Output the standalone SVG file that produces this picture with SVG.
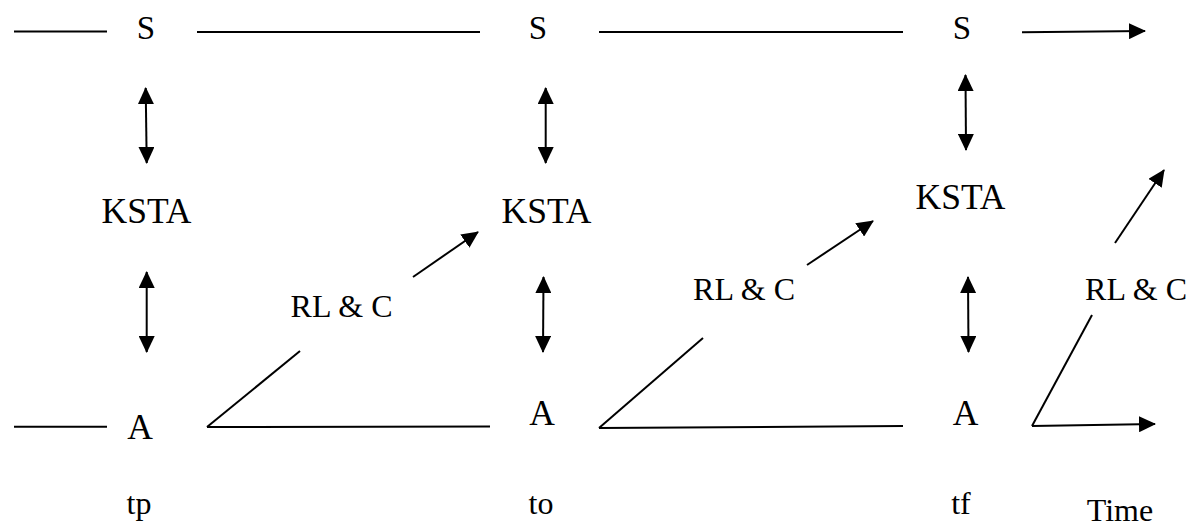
<svg xmlns="http://www.w3.org/2000/svg" width="1198" height="527" viewBox="0 0 1198 527">
<style>
text{font-family:"Liberation Serif","Times New Roman",serif;font-size:32px;fill:#000;text-anchor:middle}
.big{font-size:35.5px}
.s{font-size:33px}
.ln{stroke:#000;stroke-width:2;fill:none}
.ar{marker-end:url(#ah)}
.dar{marker-start:url(#ah);marker-end:url(#ah)}
</style>
<defs>
<marker id="ah" markerUnits="userSpaceOnUse" markerWidth="17" markerHeight="16" refX="16" refY="8" orient="auto-start-reverse" viewBox="0 0 17 16">
<path d="M0,0 L17,8 L0,16 z" fill="#000"/>
</marker>
</defs>
<rect width="1198" height="527" fill="#fff"/>
<g id="connectors">
<line class="ln" x1="14" y1="31.5" x2="107" y2="31.5"/>
<line class="ln" x1="197" y1="32" x2="480" y2="32"/>
<line class="ln" x1="599" y1="32" x2="903" y2="32"/>
<line class="ln ar" x1="1022" y1="32.3" x2="1145" y2="31"/>
<line class="ln dar" x1="145.7" y1="88" x2="146.7" y2="163"/>
<line class="ln dar" x1="146.7" y1="272" x2="146.7" y2="352"/>
<line class="ln dar" x1="545.7" y1="88" x2="545.7" y2="163"/>
<line class="ln dar" x1="543.5" y1="277" x2="543" y2="352"/>
<line class="ln dar" x1="965.5" y1="75" x2="966" y2="150"/>
<line class="ln dar" x1="968" y1="277" x2="968.5" y2="352"/>
<line class="ln" x1="14" y1="426.7" x2="107" y2="426.7"/>
<line class="ln" x1="207" y1="427" x2="490" y2="426.5"/>
<line class="ln" x1="207" y1="427" x2="300" y2="351"/>
<line class="ln ar" x1="413" y1="277" x2="478" y2="232"/>
<line class="ln" x1="599" y1="428" x2="903" y2="426"/>
<line class="ln" x1="599" y1="428" x2="703" y2="338"/>
<line class="ln ar" x1="807" y1="265" x2="873" y2="221"/>
<line class="ln ar" x1="1032" y1="426" x2="1155" y2="424"/>
<line class="ln" x1="1032" y1="426" x2="1092" y2="315"/>
<line class="ln ar" x1="1115" y1="243" x2="1164" y2="170"/>
</g>
<g id="S1"><text class="s" x="146" y="39">S</text></g>
<g id="S2"><text class="s" x="538" y="39">S</text></g>
<g id="S3"><text class="s" x="962" y="39">S</text></g>
<g id="KSTA1"><text class="big" x="146.5" y="223">KSTA</text></g>
<g id="KSTA2"><text class="big" x="546.5" y="223">KSTA</text></g>
<g id="KSTA3"><text class="big" x="960.5" y="209">KSTA</text></g>
<g id="RLC1"><text x="341.5" y="317">RL &amp; C</text></g>
<g id="RLC2"><text x="744" y="300">RL &amp; C</text></g>
<g id="RLC3"><text x="1136" y="300">RL &amp; C</text></g>
<g id="A1"><text class="big" x="140" y="439">A</text></g>
<g id="A2"><text class="big" x="542" y="425">A</text></g>
<g id="A3"><text class="big" x="965.5" y="425">A</text></g>
<g id="tp"><text x="139" y="514">tp</text></g>
<g id="to"><text x="541" y="514">to</text></g>
<g id="tf"><text x="961" y="514">tf</text></g>
<g id="time"><text x="1120" y="521">Time</text></g>
</svg>
